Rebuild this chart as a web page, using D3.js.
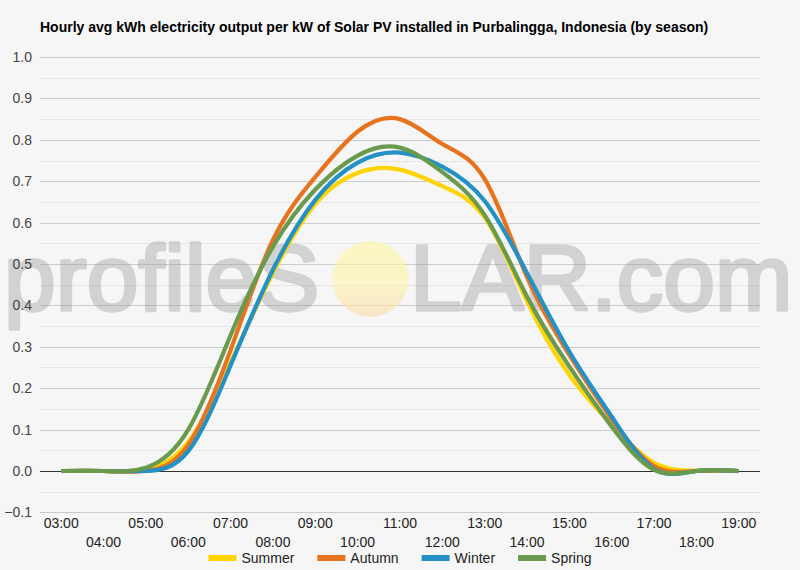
<!DOCTYPE html>
<html>
<head>
<meta charset="utf-8">
<script src="https://cdn.jsdelivr.net/npm/d3@7"></script>
<style>
  body { margin: 0; background: #f6f6f6; }
  svg { display: block; font-family: Arial, "Liberation Sans", sans-serif; }
</style>
</head>
<body>
<div id="chart"></div>
<script>
// hourly averages, kWh per kW installed
var hours = ["03:00", "04:00", "05:00", "06:00", "07:00", "08:00", "09:00", "10:00", "11:00",
             "12:00", "13:00", "14:00", "15:00", "16:00", "17:00", "18:00", "19:00"];
var summer = [0, 0, 0.003, 0.07, 0.262, 0.478, 0.645, 0.72, 0.728, 0.688, 0.612, 0.41, 0.232, 0.112, 0.02, 0.001, 0];
var autumn = [0, 0, 0, 0.063, 0.292, 0.558, 0.71, 0.82, 0.85, 0.79, 0.705, 0.468, 0.28, 0.125, 0.012, 0, 0];
var winter = [0, 0, 0, 0.048, 0.255, 0.486, 0.655, 0.745, 0.769, 0.735, 0.652, 0.478, 0.288, 0.131, 0.005, 0, 0];
var spring = [0, 0, 0.008, 0.1, 0.328, 0.542, 0.68, 0.762, 0.781, 0.722, 0.618, 0.421, 0.252, 0.107, 0.003, 0, 0];
var yTicks = [-0.1, 0, 0.1, 0.2, 0.3, 0.4, 0.5, 0.6, 0.7, 0.8, 0.9, 1.0];

var seasons = [
    { name: "Summer", values: summer, color: "#ffd400" },
    { name: "Autumn", values: autumn, color: "#e8731f" },
    { name: "Winter", values: winter, color: "#2391c5" },
    { name: "Spring", values: spring, color: "#6a9a4e" }
];

var width = 800, height = 570;
var area = { left: 40, top: 57, right: 760, bottom: 512.4 };

var svg = d3.select("#chart")
    .append("svg")
    .attr("width", width)
    .attr("height", height);

svg.append("rect")
    .attr("width", width)
    .attr("height", height)
    .attr("fill", "#f6f6f6");

var x = d3.scalePoint()
    .domain(hours)
    .range([area.left, area.right])
    .padding(0.5);

var y = d3.scaleLinear()
    .domain([-0.1, 1.0])
    .range([area.bottom, area.top]);

// minor gridlines halfway between the major ones
var minor = d3.range(-0.05, 1.0, 0.1);
svg.append("g")
    .selectAll("line")
    .data(minor)
    .enter()
    .append("line")
    .attr("x1", area.left)
    .attr("x2", area.right)
    .attr("y1", function (d) { return Math.round(y(d)) + 0.5; })
    .attr("y2", function (d) { return Math.round(y(d)) + 0.5; })
    .attr("stroke", "#e6e6e6");

svg.append("g")
    .selectAll("line")
    .data(yTicks.filter(function (d) { return d !== 0; }))
    .enter()
    .append("line")
    .attr("x1", area.left)
    .attr("x2", area.right)
    .attr("y1", function (d) { return Math.round(y(d)) + 0.5; })
    .attr("y2", function (d) { return Math.round(y(d)) + 0.5; })
    .attr("stroke", "#cccccc");

// watermark
var wm = svg.append("g").attr("opacity", 0.38);
wm.append("text")
    .attr("x", 4)
    .attr("y", 310)
    .attr("font-size", 93)
    .attr("fill", "#9a9a9a")
    .attr("stroke", "#9a9a9a")
    .attr("stroke-width", 3.5)
    .attr("stroke-linejoin", "round")
    .text("profileS");
wm.append("text")
    .attr("x", 410)
    .attr("y", 310)
    .attr("font-size", 93)
    .attr("fill", "#9a9a9a")
    .attr("stroke", "#9a9a9a")
    .attr("stroke-width", 3.5)
    .attr("stroke-linejoin", "round")
    .text("LAR.com");

var grad = svg.append("defs")
    .append("linearGradient")
    .attr("id", "sun")
    .attr("x1", 0).attr("y1", 0).attr("x2", 0).attr("y2", 1);
grad.append("stop").attr("offset", "0%").attr("stop-color", "#fff6a0");
grad.append("stop").attr("offset", "55%").attr("stop-color", "#fff3a8");
grad.append("stop").attr("offset", "100%").attr("stop-color", "#fcd9a8");

svg.append("circle")
    .attr("cx", 370.5)
    .attr("cy", 279)
    .attr("r", 38)
    .attr("fill", "url(#sun)")
    .attr("opacity", 0.6);

// zero baseline
svg.append("line")
    .attr("x1", area.left)
    .attr("x2", area.right)
    .attr("y1", Math.round(y(0)) + 0.5)
    .attr("y2", Math.round(y(0)) + 0.5)
    .attr("stroke", "#333333");

// y labels
svg.append("g")
    .selectAll("text")
    .data(yTicks)
    .enter()
    .append("text")
    .attr("x", 32)
    .attr("y", function (d) { return y(d); })
    .attr("dy", "0.36em")
    .attr("text-anchor", "end")
    .attr("font-size", 14)
    .attr("fill", "#444444")
    .text(function (d) { return d3.format(".1f")(d); });

// x labels, staggered on two rows
svg.append("g")
    .selectAll("text")
    .data(hours)
    .enter()
    .append("text")
    .attr("x", function (d) { return x(d); })
    .attr("y", function (d, i) { return i % 2 === 0 ? 528 : 547; })
    .attr("text-anchor", "middle")
    .attr("font-size", 14)
    .attr("fill", "#222222")
    .text(function (d) { return d; });

var line = d3.line()
    .x(function (d, i) { return x(hours[i]); })
    .y(function (d) { return y(d); })
    .curve(d3.curveNatural);

svg.append("g")
    .selectAll("path")
    .data(seasons)
    .enter()
    .append("path")
    .attr("fill", "none")
    .attr("stroke", function (d) { return d.color; })
    .attr("stroke-width", 4.2)
    .attr("stroke-linejoin", "round")
    .attr("d", function (d) { return line(d.values); });

// title
svg.append("text")
    .attr("x", 40)
    .attr("y", 32)
    .attr("font-size", 14)
    .attr("font-weight", "bold")
    .attr("fill", "#000000")
    .text("Hourly avg kWh electricity output per kW of Solar PV installed in Purbalingga, Indonesia (by season)");

// legend, centred under the chart
var legend = svg.append("g");
var items = legend.selectAll("g")
    .data(seasons)
    .enter()
    .append("g");
items.append("rect")
    .attr("width", 28)
    .attr("height", 6)
    .attr("y", 555)
    .attr("fill", function (d) { return d.color; });
items.append("text")
    .attr("x", 33)
    .attr("y", 563)
    .attr("font-size", 14)
    .attr("fill", "#222222")
    .text(function (d) { return d.name; });

var offset = 0, widths = [];
items.each(function () {
    var w = 33 + d3.select(this).select("text").node().getComputedTextLength();
    widths.push(w);
});
var total = d3.sum(widths) + 23 * (widths.length - 1);
offset = 400 - total / 2;
items.attr("transform", function (d, i) {
    var t = "translate(" + offset + ",0)";
    offset += widths[i] + 23;
    return t;
});
</script>
</body>
</html>
